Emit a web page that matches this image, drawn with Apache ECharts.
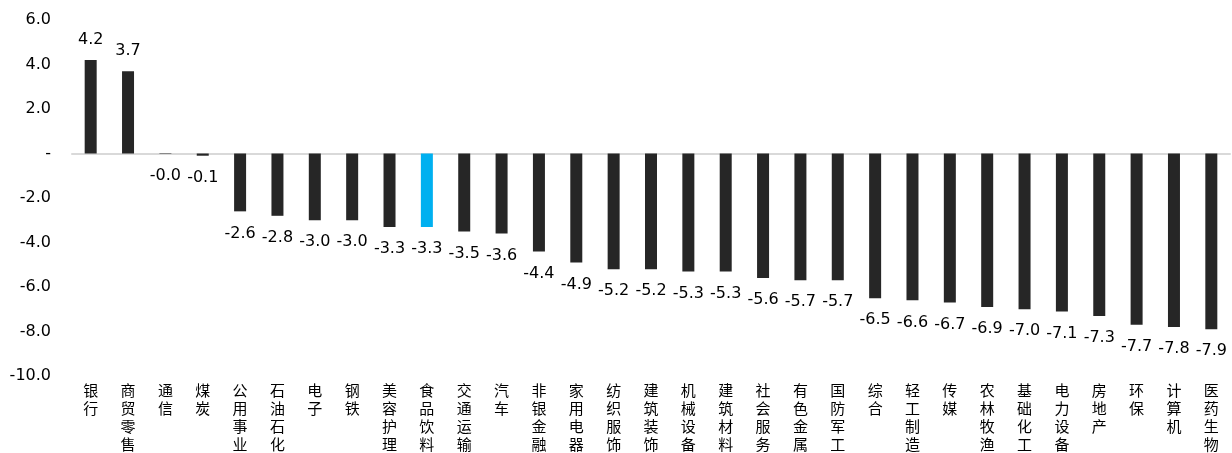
<!DOCTYPE html>
<html>
<head>
<meta charset="utf-8">
<script src="https://cdn.jsdelivr.net/npm/echarts@6/dist/echarts.min.js"></script>
<style>
  html, body { margin: 0; padding: 0; background: #fff; }
  #chart { width: 1232px; height: 453px; }
</style>
</head>
<body>
<div id="chart"></div>
<script>
// Industries (Shenwan level-1) and their returns, %
const categories = ['银行','商贸零售','通信','煤炭','公用事业','石油石化','电子','钢铁','美容护理','食品饮料',
  '交通运输','汽车','非银金融','家用电器','纺织服饰','建筑装饰','机械设备','建筑材料','社会服务','有色金属',
  '国防军工','综合','轻工制造','传媒','农林牧渔','基础化工','电力设备','房地产','环保','计算机','医药生物'];
const values = [4.2, 3.7, -0.02, -0.1, -2.6, -2.8, -3.0, -3.0, -3.3, -3.3,
  -3.5, -3.6, -4.4, -4.9, -5.2, -5.2, -5.3, -5.3, -5.6, -5.7,
  -5.7, -6.5, -6.6, -6.7, -6.9, -7.0, -7.1, -7.3, -7.7, -7.8, -7.9];
const highlighted = ['食品饮料'];
const yTicks = { min: -10, max: 6, interval: 2 };

const DARK = '#262626';
const BLUE = '#00B0F0';
const NUM_FONT = 'DejaVu Sans, Liberation Sans, Arial, sans-serif';
const chart = echarts.init(document.getElementById('chart'));

const barData = values.map((v, i) => ({
  value: v,
  itemStyle: { color: highlighted.includes(categories[i]) ? BLUE : DARK },
  label: v >= 0 ? { position: 'top', distance: 12 } : { position: 'bottom', distance: 14 }
}));

chart.setOption({
  animation: false,
  backgroundColor: '#fff',
  grid: { left: 72, right: 2, top: 20, bottom: 76 },
  xAxis: [
    {
      type: 'category',
      data: categories,
      axisLine: { show: false, onZero: false },
      axisTick: { show: false },
      axisLabel: {
        interval: 0,
        margin: 5,
        color: '#000',
        fontFamily: 'Noto Sans CJK SC',
        fontSize: 15,
        lineHeight: 18,
        verticalAlign: 'top',
        formatter: s => s.split('').join('\n')
      }
    },
    {
      type: 'category',
      data: categories,
      position: 'bottom',
      axisLine: { show: true, onZero: true, lineStyle: { color: '#d9d9d9', width: 2 } },
      axisTick: { show: false },
      axisLabel: { show: false }
    }
  ],
  yAxis: {
    type: 'value',
    min: yTicks.min,
    max: yTicks.max,
    interval: yTicks.interval,
    axisLine: { show: false },
    axisTick: { show: false },
    splitLine: { show: false },
    axisLabel: {
      margin: 21,
      color: '#000',
      fontFamily: NUM_FONT,
      fontSize: 16,
      formatter: v => (v === 0 ? '-' : v.toFixed(1))
    }
  },
  series: [{
    type: 'bar',
    xAxisIndex: 0,
    data: barData,
    barWidth: 12,
    label: {
      show: true,
      color: '#000',
      fontFamily: NUM_FONT,
      fontSize: 16,
      formatter: p => p.value.toFixed(1)
    }
  }]
});
</script>
</body>
</html>
